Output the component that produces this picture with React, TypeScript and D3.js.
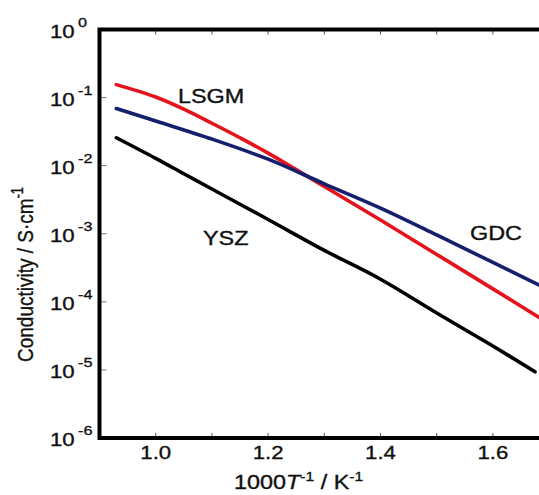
import React from "react";
import * as d3 from "d3";

// ---- data ----
const xLSGM = [0.93, 1.0, 1.05, 1.1, 1.15, 1.2, 1.3, 1.4, 1.5, 1.6, 1.7];
const yLSGM = [0.155, 0.102, 0.0676, 0.0420, 0.0257, 0.0153, 0.00495, 0.00159, 4.97e-4, 1.55e-4, 4.8e-5];
const xGDC = [0.93, 1.0, 1.1, 1.2, 1.3, 1.4, 1.5, 1.6, 1.7];
const yGDC = [0.069, 0.0452, 0.0246, 0.01245, 0.00542, 0.00238, 9.6e-4, 3.79e-4, 1.5e-4];
const xYSZ = [0.93, 1.0, 1.05, 1.1, 1.2, 1.3, 1.4, 1.5, 1.6, 1.675];
const yYSZ = [0.0257, 0.0128, 0.0076, 0.00454, 0.00162, 5.7e-4, 2.15e-4, 6.86e-5, 2.24e-5, 9.4e-6];

const xMajorTicks = [1.0, 1.2, 1.4, 1.6];
const xMinorTicks = [1.0, 1.1, 1.2, 1.3, 1.4, 1.5, 1.6];
const yExponents = [0, -1, -2, -3, -4, -5, -6];

const seriesNames = ["LSGM", "GDC", "YSZ"];
const seriesColors = ["#e5131b", "#14206e", "#000000"];

const W = 539;
const H = 495;
const FONT = "'Liberation Sans', Arial, Helvetica, sans-serif";
const SX = 1.2;

function T({ x, y, size, anchor = "start", children, sx = SX }: any) {
  return (
    <text
      transform={`translate(${x},${y}) scale(${sx},1)`}
      fontSize={size}
      textAnchor={anchor}
      fontFamily={FONT}
      fill="#111"
      stroke="#111"
      strokeWidth={0.35}
    >
      {children}
    </text>
  );
}

export default function App() {
  const x = d3.scaleLinear().domain([0.9, 1.7]).range([99.5, 549.1]);
  const y = d3.scaleLog().domain([1e-6, 1]).range([438, 29.5]);
  const line = d3
    .line<[number, number]>()
    .x((d) => x(d[0]))
    .y((d) => y(d[1]))
    .curve(d3.curveCatmullRom.alpha(0.5));

  const series = [
    d3.zip(xLSGM, yLSGM) as [number, number][],
    d3.zip(xGDC, yGDC) as [number, number][],
    d3.zip(xYSZ, yYSZ) as [number, number][],
  ];

  const x0 = x(0.9);
  const yTop = y(1);
  const yBot = y(1e-6);

  return (
    <svg
      width={W}
      height={H}
      style={{ position: "absolute", left: 0, top: 0, background: "#fff" }}
    >
      <rect x={0} y={0} width={W} height={H} fill="#fff" />
      {/* minor x ticks top & bottom */}
      {xMinorTicks.map((v) => (
        <g key={"xt" + v}>
          <line x1={x(v)} x2={x(v)} y1={yTop} y2={yTop + 5} stroke="#555" strokeWidth={1} />
          <line x1={x(v)} x2={x(v)} y1={yBot} y2={yBot - 5} stroke="#555" strokeWidth={1} />
        </g>
      ))}
      {/* y ticks */}
      {yExponents.map((e) => (
        <line key={"yt" + e} x1={x0} x2={x0 + 7} y1={y(Math.pow(10, e))} y2={y(Math.pow(10, e))} stroke="#777" strokeWidth={1} />
      ))}
      {/* curves */}
      {series.map((s, i) => (
        <path
          key={seriesNames[i]}
          d={line(s) || ""}
          fill="none"
          stroke={seriesColors[i]}
          strokeWidth={3.6}
          strokeLinecap="round"
          strokeLinejoin="round"
        />
      ))}
      {/* frame */}
      <path
        d={`M${W + 5},${yTop} H${x0} V${yBot} H${W + 5}`}
        fill="none"
        stroke="#000"
        strokeWidth={4}
      />
      {/* y tick labels */}
      {yExponents.map((e) => {
        const yy = y(Math.pow(10, e));
        return (
          <g key={"yl" + e}>
            <T x={50} y={yy + 8} size={18.5}>10</T>
            <T x={78} y={yy - 3} size={13.5}>{e === 0 ? "0" : "-" + Math.abs(e)}</T>
          </g>
        );
      })}
      {/* x tick labels */}
      {xMajorTicks.map((v) => (
        <T key={"xl" + v} x={x(v)} y={459} size={18.5} anchor="middle">
          {v.toFixed(1)}
        </T>
      ))}
      {/* x axis title */}
      <T x={234} y={489} size={19.5}>
        1000<tspan fontStyle="italic">T</tspan>
        <tspan fontSize={13} dy={-8}>-1</tspan>
        <tspan dy={8}> / K</tspan>
        <tspan fontSize={13} dy={-8}>-1</tspan>
      </T>
      {/* y axis title */}
      <text
        transform={`translate(33,${362}) rotate(-90) scale(1,${SX})`}
        fontSize={19}
        fontFamily={FONT}
        fill="#111"
        stroke="#111"
        strokeWidth={0.3}
      >
        Conductivity / S·cm<tspan fontSize={13} dy={-8}>-1</tspan>
      </text>
      {/* series labels */}
      <T x={178} y={103} size={19.5}>{seriesNames[0]}</T>
      <T x={470} y={240} size={19.5}>{seriesNames[1]}</T>
      <T x={203} y={245} size={19.5}>{seriesNames[2]}</T>
    </svg>
  );
}
